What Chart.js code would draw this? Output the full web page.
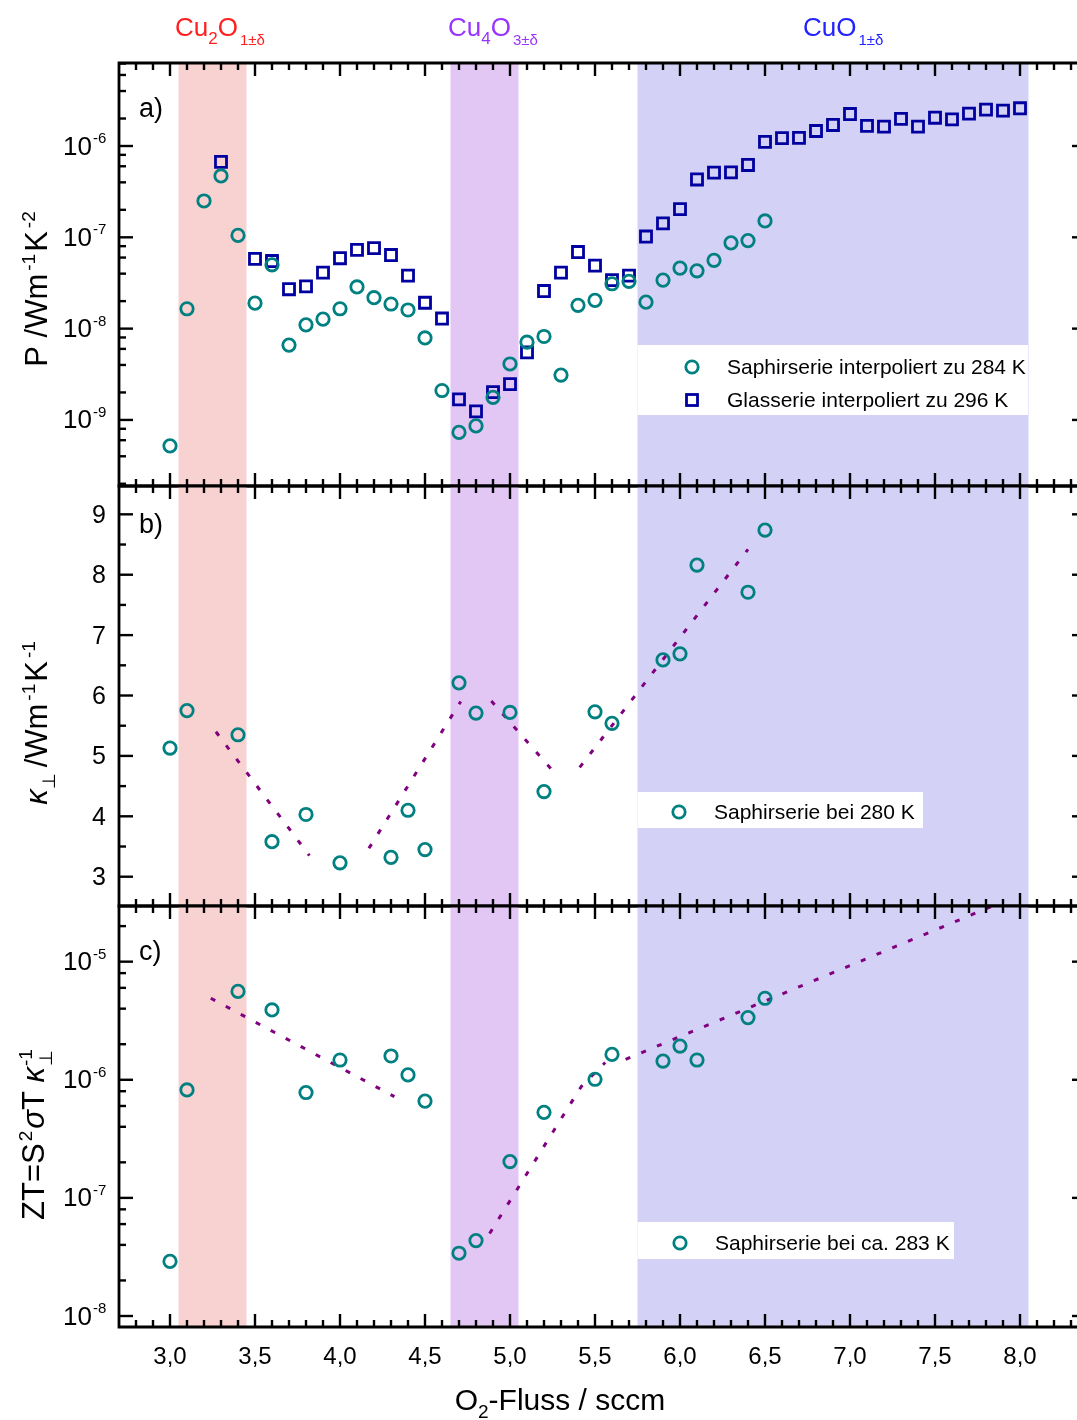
<!DOCTYPE html>
<html lang="de">
<head>
<meta charset="utf-8">
<title>P, κ⊥ und ZT in Abhängigkeit vom O2-Fluss</title>
<script src="https://cdn.jsdelivr.net/npm/chart.js@4.4.1/dist/chart.umd.min.js"></script>
<style>
  html, body { margin: 0; padding: 0; background: #fff; }
  #rahmen { position: relative; width: 1077px; height: 1420px; overflow: hidden; }
  #rahmen canvas { position: absolute; left: 0; }
</style>
</head>
<body>
<div id="rahmen">
  <canvas id="chartP" width="1077" height="490" style="top:0px"></canvas>
  <canvas id="chartKappa" width="1077" height="428" style="top:482px"></canvas>
  <canvas id="chartZT" width="1077" height="518" style="top:902px"></canvas>
</div>
<script>
// a) Powerfaktor der Saphirserie (interpoliert zu 284 K)
const flussSaphir = [3.0, 3.1, 3.2, 3.3, 3.4, 3.5, 3.6, 3.7, 3.8, 3.9, 4.0, 4.1, 4.2, 4.3, 4.4, 4.5, 4.6, 4.7,
  4.8, 4.9, 5.0, 5.1, 5.2, 5.3, 5.4, 5.5, 5.6, 5.7, 5.8, 5.9, 6.0, 6.1, 6.2, 6.3, 6.4, 6.5];
const powerSaphir = [5.2e-10, 1.65e-8, 2.5e-7, 4.7e-7, 1.05e-7, 1.9e-8, 5.0e-8, 6.6e-9, 1.1e-8, 1.27e-8,
  1.65e-8, 2.86e-8, 2.18e-8, 1.86e-8, 1.6e-8, 7.9e-9, 2.1e-9, 7.3e-10, 8.6e-10, 1.77e-9, 4.1e-9, 7.1e-9,
  8.2e-9, 3.1e-9, 1.8e-8, 2.04e-8, 3.1e-8, 3.3e-8, 1.95e-8, 3.4e-8, 4.6e-8, 4.3e-8, 5.6e-8, 8.7e-8, 9.2e-8, 1.51e-7];

// a) Powerfaktor der Glasserie (interpoliert zu 296 K)
const flussGlas = [3.3, 3.5, 3.6, 3.7, 3.8, 3.9, 4.0, 4.1, 4.2, 4.3, 4.4, 4.5, 4.6, 4.7, 4.8, 4.9, 5.0, 5.1,
  5.2, 5.3, 5.4, 5.5, 5.6, 5.7, 5.8, 5.9, 6.0, 6.1, 6.2, 6.3, 6.4, 6.5, 6.6, 6.7, 6.8, 6.9, 7.0, 7.1, 7.2,
  7.3, 7.4, 7.5, 7.6, 7.7, 7.8, 7.9, 8.0];
const powerGlas = [6.7e-7, 5.8e-8, 5.5e-8, 2.7e-8, 2.9e-8, 4.1e-8, 5.9e-8, 7.3e-8, 7.6e-8, 6.4e-8, 3.8e-8,
  1.92e-8, 1.29e-8, 1.68e-9, 1.24e-9, 2.02e-9, 2.47e-9, 5.5e-9, 2.58e-8, 4.1e-8, 6.9e-8, 4.9e-8, 3.4e-8,
  3.8e-8, 1.02e-7, 1.42e-7, 2.04e-7, 4.3e-7, 5.1e-7, 5.15e-7, 6.2e-7, 1.11e-6, 1.22e-6, 1.23e-6, 1.46e-6,
  1.70e-6, 2.24e-6, 1.66e-6, 1.63e-6, 1.98e-6, 1.63e-6, 2.04e-6, 1.96e-6, 2.26e-6, 2.50e-6, 2.44e-6, 2.59e-6];

// b) und c) Saphirserie: Wärmeleitfähigkeit und ZT
const flussKappa = [3.0, 3.1, 3.4, 3.6, 3.8, 4.0, 4.3, 4.4, 4.5, 4.7, 4.8, 5.0, 5.2, 5.5, 5.6, 5.9, 6.0, 6.1, 6.4, 6.5];
const kappaSaphir = [5.13, 5.75, 5.35, 3.58, 4.03, 3.23, 3.32, 4.10, 3.45, 6.21, 5.71, 5.72, 4.41, 5.73,
  5.54, 6.59, 6.69, 8.16, 7.71, 8.74];
const ztSaphir = [2.9e-8, 8.2e-7, 5.6e-6, 3.9e-6, 7.8e-7, 1.47e-6, 1.59e-6, 1.1e-6, 6.6e-7, 3.4e-8, 4.35e-8,
  2.03e-7, 5.3e-7, 1.01e-6, 1.64e-6, 1.44e-6, 1.93e-6, 1.47e-6, 3.36e-6, 4.9e-6];

// gepunktete Leitlinien, null trennt die Abschnitte
const trendKappaFluss = [3.27, 3.82, 4.0, 4.17, 4.71, 4.8, 4.89, 5.24, 5.3, 5.41, 6.40];
const trendKappaWert = [5.40, 3.35, null, 3.47, 5.90, null, 5.91, 4.79, null, 4.81, 8.42];
const trendZTFluss = [3.24, 4.32, 4.6, 4.88, 5.42, 5.56, 5.62, 5.68, 8.0];
const trendZTWert = [4.9e-6, 7.2e-7, null, 5.0e-8, 8.8e-7, 1.4e-6, null, 1.49e-6, 3.7e-5];

// Phasenbereiche in sccm
const phasenVon = [3.05, 4.65, 5.75];
const phasenBis = [3.45, 5.05, 8.05];

// Achsenbeschriftungen
const xTickWerte = [3.0, 3.5, 4.0, 4.5, 5.0, 5.5, 6.0, 6.5, 7.0, 7.5, 8.0];
const xTickLabels = ['3,0', '3,5', '4,0', '4,5', '5,0', '5,5', '6,0', '6,5', '7,0', '7,5', '8,0'];
const expP = [-9, -8, -7, -6];
const kappaTicks = [3, 4, 5, 6, 7, 8, 9];
const expZT = [-8, -7, -6, -5];

const farbeSaphir = '#008080';
const farbeGlas = '#0000a0';
const farbeTrend = '#800080';
const phasenFarben = ['#f8d1d1', '#e2c6f4', '#d3d1f5'];
const SCHRIFT = '"Liberation Sans", Arial, sans-serif';

// Text mit Hoch-/Tiefstellungen: Liste von Teilen {t, s, dy, f, gap, keep}
function setzeSchrift(ctx, t) {
  ctx.font = (t.f ? t.f + ' ' : '') + t.s + 'px ' + SCHRIFT;
}
function textBreite(ctx, teile) {
  let w = 0;
  teile.forEach(t => {
    setzeSchrift(ctx, t);
    if (!t.keep) w += ctx.measureText(t.t).width + (t.gap || 0);
  });
  return w;
}
function zeichneText(ctx, teile, x, y, mittig) {
  let cx = mittig ? x - textBreite(ctx, teile) / 2 : x;
  ctx.textAlign = 'left';
  ctx.textBaseline = 'alphabetic';
  teile.forEach(t => {
    setzeSchrift(ctx, t);
    ctx.fillText(t.t, cx, y + (t.dy || 0));
    if (!t.keep) cx += ctx.measureText(t.t).width + (t.gap || 0);
  });
}

function punkte(xs, ys) {
  return xs.map((x, i) => ({ x: x, y: ys[i] }));
}

function kreise(label, xs, ys) {
  return {
    label: label, data: punkte(xs, ys), showLine: false,
    pointStyle: 'circle', pointRadius: 6.2, borderWidth: 2.8,
    borderColor: farbeSaphir, backgroundColor: 'rgba(0,0,0,0)'
  };
}

function trend(xs, ys) {
  return {
    label: 'Leitlinie', data: punkte(xs, ys), showLine: true, spanGaps: false,
    pointRadius: 0, borderColor: farbeTrend, borderWidth: 3,
    borderDash: [5, 12], backgroundColor: 'rgba(0,0,0,0)'
  };
}

// Hintergrundbänder der Phasen und weißer Legendenkasten
const phasenPlugin = {
  id: 'phasen',
  beforeDatasetsDraw(chart, args, o) {
    const ctx = chart.ctx, a = chart.chartArea, x = chart.scales.x;
    ctx.save();
    phasenVon.forEach((von, i) => {
      const x0 = x.getPixelForValue(von), x1 = x.getPixelForValue(phasenBis[i]);
      ctx.fillStyle = phasenFarben[i];
      ctx.fillRect(x0, a.top, x1 - x0, a.bottom - a.top);
    });
    const L = o.legende;
    const lx = x.getPixelForValue(phasenVon[2]);
    ctx.fillStyle = '#fff';
    ctx.fillRect(lx, L.oben, L.rechts - lx, L.unten - L.oben);
    L.eintraege.forEach(e => {
      const ds = chart.data.datasets[e.ds];
      ctx.strokeStyle = ds.borderColor;
      ctx.lineWidth = ds.borderWidth;
      if (ds.pointStyle === 'rect') {
        ctx.strokeRect(L.markerX - 5.5, e.y - 5.5, 11, 11);
      } else {
        ctx.beginPath();
        ctx.arc(L.markerX, e.y, ds.pointRadius, 0, Math.PI * 2);
        ctx.stroke();
      }
      ctx.fillStyle = '#000';
      ctx.font = '21px ' + SCHRIFT;
      ctx.textAlign = 'left';
      ctx.textBaseline = 'middle';
      ctx.fillText(ds.label, L.textX, e.y + 1);
    });
    ctx.restore();
  }
};

// Rahmen, Ticks und alle Beschriftungen
const achsenPlugin = {
  id: 'achsen',
  afterDraw(chart, args, o) {
    const ctx = chart.ctx, a = chart.chartArea, x = chart.scales.x, y = chart.scales.y;
    const strich = (x0, y0, x1, y1) => { ctx.beginPath(); ctx.moveTo(x0, y0); ctx.lineTo(x1, y1); ctx.stroke(); };
    ctx.save();
    ctx.strokeStyle = '#000';
    ctx.fillStyle = '#000';
    ctx.lineWidth = 2.8;
    ctx.beginPath();
    ctx.moveTo(a.right + 2, a.top);
    ctx.lineTo(a.left, a.top);
    ctx.lineTo(a.left, a.bottom);
    ctx.lineTo(a.right + 2, a.bottom);
    ctx.stroke();

    ctx.lineWidth = 2.4;
    for (let i = 28; i <= 83; i++) {
      const px = x.getPixelForValue(i / 10);
      const len = i % 5 === 0 ? 13 : 7;
      strich(px, a.top, px, a.top + len);
      strich(px, a.bottom, px, a.bottom - len);
    }

    const yTicks = [];
    if (o.log) {
      for (let e = o.exp[0] - 1; e <= o.exp[o.exp.length - 1]; e++) {
        [1, 2, 4, 6, 8].forEach(m => yTicks.push({ v: m * Math.pow(10, e), major: m === 1 }));
      }
    } else {
      for (let v = 2.5; v <= 9.5; v += 0.5) yTicks.push({ v: v, major: v % 1 === 0 });
    }
    yTicks.forEach(t => {
      if (t.v < y.min || t.v > y.max) return;
      const py = y.getPixelForValue(t.v);
      strich(a.left, py, a.left + (t.major ? 14 : 7), py);
      if (t.major) strich(a.right - 5, py, a.right, py);
    });

    // y-Tickbeschriftung
    if (o.log) {
      o.exp.forEach(e => {
        const py = y.getPixelForValue(Math.pow(10, e));
        ctx.textBaseline = 'alphabetic';
        ctx.textAlign = 'right';
        ctx.font = '26px ' + SCHRIFT;
        ctx.fillText('10', 92, py + 8.5);
        ctx.textAlign = 'left';
        ctx.font = '15px ' + SCHRIFT;
        ctx.fillText(String(e), 93, py - 3);
      });
    } else {
      o.ticks.forEach(v => {
        const py = y.getPixelForValue(v);
        ctx.textAlign = 'right';
        ctx.textBaseline = 'alphabetic';
        ctx.font = '25px ' + SCHRIFT;
        ctx.fillText(String(v), 106, py + 8.5);
      });
    }

    // Panelbuchstabe
    ctx.font = '27px ' + SCHRIFT;
    ctx.textAlign = 'left';
    ctx.textBaseline = 'alphabetic';
    ctx.fillText(o.buchstabe, 139, a.top + o.buchstabeY);

    // gedrehter y-Achsentitel
    ctx.save();
    ctx.translate(o.titelX, o.titelY);
    ctx.rotate(-Math.PI / 2);
    zeichneText(ctx, o.titel, 0, 11, true);
    ctx.restore();

    // Phasennamen über dem oberen Panel
    if (o.phasen) {
      o.phasen.forEach(p => {
        ctx.fillStyle = p.farbe;
        zeichneText(ctx, p.teile, p.x, 36, false);
      });
    }

    // x-Achse unten
    if (o.xAchse) {
      ctx.fillStyle = '#000';
      ctx.font = '24px ' + SCHRIFT;
      ctx.textAlign = 'center';
      ctx.textBaseline = 'alphabetic';
      xTickWerte.forEach((v, i) => {
        ctx.fillText(xTickLabels[i], x.getPixelForValue(v), a.bottom + 37);
      });
      zeichneText(ctx, [
        { t: 'O', s: 30 }, { t: '2', s: 19, dy: 8 }, { t: '-Fluss / sccm', s: 30 }
      ], 560, a.bottom + 83, true);
    }
    ctx.restore();
  }
};

function optionen(pad, yAchse, achsen, legende) {
  return {
    responsive: false, animation: false, devicePixelRatio: 1, events: [],
    layout: { padding: pad, autoPadding: false },
    scales: {
      x: { type: 'linear', min: 2.7, max: 8.3353, display: false },
      y: Object.assign({ display: false }, yAchse)
    },
    plugins: {
      legend: { display: false },
      tooltip: { enabled: false },
      achsen: achsen,
      phasen: { legende: legende }
    }
  };
}

const hoch = (t) => ({ t: t, s: 19, dy: -12, gap: 2 });

// a) Powerfaktor
new Chart(document.getElementById('chartP'), {
  type: 'scatter',
  data: {
    datasets: [
      kreise('Saphirserie interpoliert zu 284 K', flussSaphir, powerSaphir),
      {
        label: 'Glasserie interpoliert zu 296 K', data: punkte(flussGlas, powerGlas), showLine: false,
        pointStyle: 'rect', pointRadius: 7.8, borderWidth: 2.8,
        borderColor: farbeGlas, backgroundColor: 'rgba(0,0,0,0)'
      }
    ]
  },
  options: optionen(
    { left: 119, right: 0, top: 63, bottom: 4 },
    { type: 'logarithmic', min: 1.89e-10, max: 8.11e-6 },
    {
      log: true, exp: expP, buchstabe: 'a)', buchstabeY: 54, titelX: 36, titelY: 288,
      titel: [{ t: 'P /Wm', s: 31, gap: 3 }, hoch('-1'), { t: 'K', s: 31, gap: 3 }, hoch('-2')],
      phasen: [
        { x: 175, farbe: '#ff2020', teile: [{ t: 'Cu', s: 26 }, { t: '2', s: 17, dy: 8 }, { t: 'O', s: 26, gap: 2 }, { t: '1±δ', s: 15, dy: 9 }] },
        { x: 448, farbe: '#9933ff', teile: [{ t: 'Cu', s: 26 }, { t: '4', s: 17, dy: 8 }, { t: 'O', s: 26, gap: 2 }, { t: '3±δ', s: 15, dy: 9 }] },
        { x: 803, farbe: '#2222ff', teile: [{ t: 'CuO', s: 26, gap: 2 }, { t: '1±δ', s: 15, dy: 9 }] }
      ]
    },
    { oben: 345, unten: 415, rechts: 1028, markerX: 692, textX: 727, eintraege: [{ ds: 0, y: 367 }, { ds: 1, y: 400 }] }
  ),
  plugins: [phasenPlugin, achsenPlugin]
});

// b) Wärmeleitfähigkeit senkrecht zur Schicht
new Chart(document.getElementById('chartKappa'), {
  type: 'scatter',
  data: {
    datasets: [
      kreise('Saphirserie bei 280 K', flussKappa, kappaSaphir),
      trend(trendKappaFluss, trendKappaWert)
    ]
  },
  options: optionen(
    { left: 119, right: 0, top: 4, bottom: 4 },
    { type: 'linear', min: 2.515, max: 9.469 },
    {
      log: false, ticks: kappaTicks, buchstabe: 'b)', buchstabeY: 47, titelX: 36, titelY: 240,
      titel: [{ t: 'κ', s: 31, f: 'italic' }, { t: '⊥', s: 18, dy: 8, gap: 6 }, { t: '/Wm', s: 31, gap: 3 },
        hoch('-1'), { t: 'K', s: 31, gap: 3 }, hoch('-1')]
    },
    { oben: 310, unten: 346, rechts: 923, markerX: 679, textX: 714, eintraege: [{ ds: 0, y: 330 }] }
  ),
  plugins: [phasenPlugin, achsenPlugin]
});

// c) Gütezahl ZT
new Chart(document.getElementById('chartZT'), {
  type: 'scatter',
  data: {
    datasets: [
      kreise('Saphirserie bei ca. 283 K', flussKappa, ztSaphir),
      trend(trendZTFluss, trendZTWert)
    ]
  },
  options: optionen(
    { left: 119, right: 0, top: 4, bottom: 93 },
    { type: 'logarithmic', min: 8.07e-9, max: 2.96e-5 },
    {
      log: true, exp: expZT, buchstabe: 'c)', buchstabeY: 54, titelX: 33, titelY: 233, xAchse: true,
      titel: [{ t: 'ZT=S', s: 31, gap: 2 }, hoch('2'), { t: 'σ', s: 31, f: 'italic' }, { t: 'T ', s: 31 },
        { t: 'κ', s: 31, f: 'italic', gap: 1 }, { t: '-1', s: 19, dy: -12, keep: true }, { t: '⊥', s: 18, dy: 8 }]
    },
    { oben: 320, unten: 357, rechts: 954, markerX: 680, textX: 715, eintraege: [{ ds: 0, y: 341 }] }
  ),
  plugins: [phasenPlugin, achsenPlugin]
});
</script>
</body>
</html>
